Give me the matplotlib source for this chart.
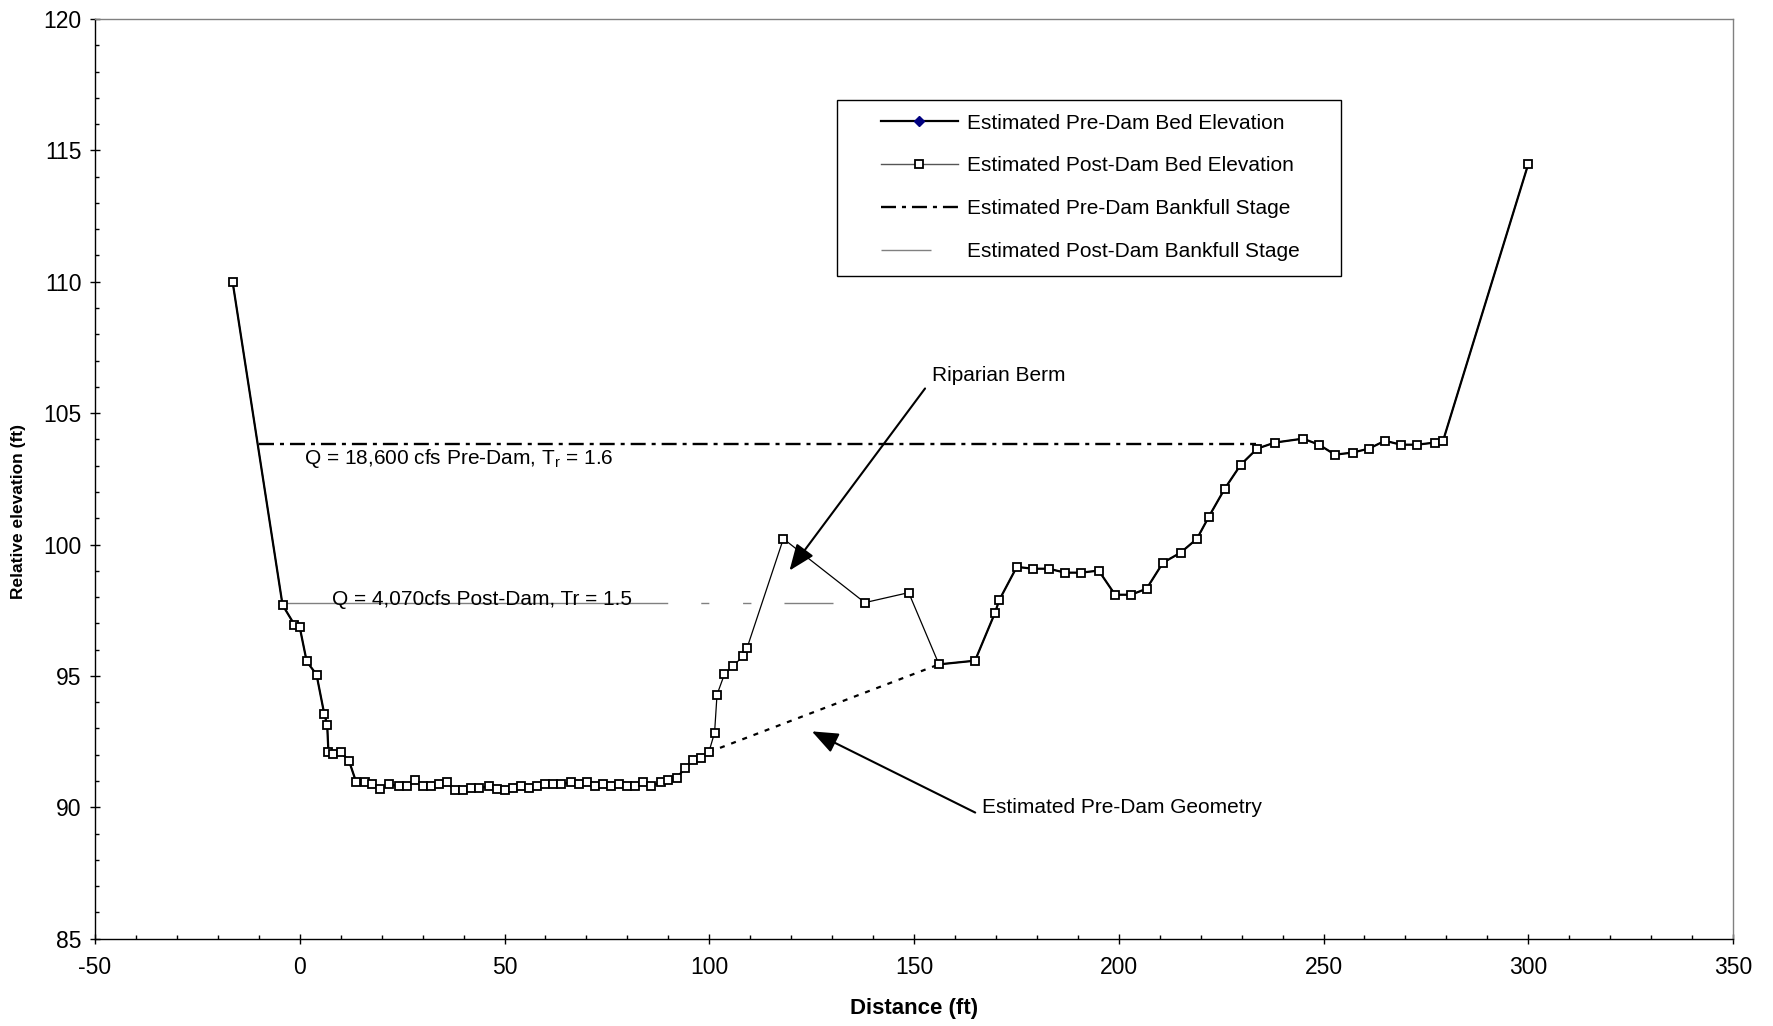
import numpy as np
import matplotlib
matplotlib.use("Agg")
import matplotlib.pyplot as plt
from matplotlib.lines import Line2D
from matplotlib.patches import Rectangle
from matplotlib.ticker import MultipleLocator

plt.rcParams['font.family'] = ['Liberation Sans', 'DejaVu Sans']
plt.rcParams['lines.scale_dashes'] = False
plt.rcParams['mathtext.default'] = 'regular'
plt.rcParams['axes.unicode_minus'] = False

# Surveyed cross-section (post-dam bed), distance / elevation in ft
post_x = [-16.4, -4.2, -1.3, 0.0, 1.7, 4.1, 6.0, 6.7, 7.0, 8.0, 10.0, 12.0,
          13.8, 15.9, 17.7, 19.7, 21.7, 24.2, 26.1, 28.1, 30.0, 32.0, 34.0,
          36.0, 37.9, 39.8, 41.8, 43.8, 46.2, 48.1, 50.1, 52.0, 54.0, 55.9,
          58.0, 59.9, 61.9, 63.8, 66.2, 68.2, 70.1, 72.1, 74.0, 76.0, 77.9,
          79.9, 81.8, 83.8, 85.7, 88.1, 90.0, 92.1, 94.0, 96.0, 97.9, 99.9,
          101.3, 101.9, 103.7, 105.8, 108.2, 109.2, 118.1, 138.0, 148.7,
          156.1, 164.9, 169.8, 170.8, 175.1, 179.0, 182.9, 186.9, 190.8,
          195.1, 199.1, 203.0, 206.8, 210.8, 215.1, 219.1, 222.0, 225.9,
          229.8, 233.8, 238.1, 245.0, 248.9, 252.8, 257.1, 261.1, 265.0,
          268.9, 272.8, 277.2, 279.2, 300.0]
post_y = [110.0, 97.7, 96.95, 96.85, 95.55, 95.05, 93.54, 93.15, 92.1, 92.02,
          92.1, 91.78, 90.95, 90.95, 90.88, 90.71, 90.88, 90.8, 90.8, 91.03,
          90.8, 90.8, 90.88, 90.95, 90.65, 90.65, 90.73, 90.73, 90.8, 90.71,
          90.65, 90.73, 90.83, 90.73, 90.8, 90.88, 90.88, 90.88, 90.95, 90.88,
          90.95, 90.8, 90.88, 90.8, 90.88, 90.8, 90.8, 90.95, 90.8, 90.95,
          91.03, 91.11, 91.49, 91.79, 91.87, 92.1, 92.84, 94.29, 95.06, 95.38,
          95.74, 96.05, 100.22, 97.79, 98.17, 95.44, 95.58, 97.41, 97.88,
          99.15, 99.08, 99.08, 98.93, 98.93, 99.01, 98.09, 98.09, 98.32,
          99.31, 99.69, 100.22, 101.06, 102.13, 103.04, 103.65, 103.88,
          104.03, 103.8, 103.42, 103.5, 103.65, 103.95, 103.8, 103.8, 103.88,
          103.95, 114.48]

# pre-dam bed follows the survey outside the berm reach
berm_start, berm_end = 99.9, 156.1

# bankfull stages
pre_stage = 103.84
pre_stage_x = [-10.0, 233.6]
post_stage = 97.79
post_stage_x = [-4.2, 130.3]

px = np.array(post_x)
py = np.array(post_y)
left = px <= berm_start
right = px >= berm_end

fig = plt.figure(figsize=(17.73, 10.26), dpi=100)
ax = fig.add_axes([95 / 1773, 1 - 938.7 / 1026, (1733 - 95) / 1773, (938.7 - 19) / 1026])

# pre-dam bed (thick line), diamonds sit under the survey squares
for m in (left, right):
    ax.plot(px[m], py[m], color='black', lw=1.6, marker='D', ms=3,
            mfc='navy', mec='navy', zorder=3)
# estimated pre-dam geometry through the berm
ax.plot([berm_start, berm_end], [py[px == berm_start][0], py[px == berm_end][0]],
        color='black', lw=1.6, dashes=(3.6, 5.0), zorder=3)

# post-dam bed
ax.plot(px, py, color='black', lw=0.9, marker='s', ms=5.4, mfc='white',
        mec='black', mew=1.3, zorder=4)

# bankfull stages
ax.plot(pre_stage_x, [pre_stage] * 2, color='black', lw=1.7,
        dashes=(10.8, 4.3, 2.9, 4.3), zorder=2)
ax.plot(post_stage_x, [post_stage] * 2, color='#808080', lw=1.0,
        dashes=(277, 23.8, 5.8, 24.3, 6.0, 23.8, 40), zorder=2)

ax.text(1.0, 103.28, 'Q = 18,600 cfs Pre-Dam, T$_{r}$ = 1.6', fontsize=15,
        va='center', ha='left')
ax.text(7.8, 97.9, 'Q = 4,070cfs Post-Dam, Tr = 1.5', fontsize=15,
        va='center', ha='left')

arrow = dict(arrowstyle='-|>,head_length=0.8,head_width=0.32', color='black',
             lw=1.5, shrinkA=0, shrinkB=0, mutation_scale=20)
ax.annotate('', xy=(119.6, 99.01), xytext=(152.7, 105.94), arrowprops=arrow)
ax.text(154.4, 106.44, 'Riparian Berm', fontsize=15, va='center', ha='left')
ax.annotate('', xy=(125.06, 92.89), xytext=(164.95, 89.80), arrowprops=arrow)
ax.text(166.6, 90.0, 'Estimated Pre-Dam Geometry', fontsize=15, va='center', ha='left')

ax.set_xlim(-50, 350)
ax.set_ylim(85, 120)
ax.xaxis.set_major_locator(MultipleLocator(50))
ax.xaxis.set_minor_locator(MultipleLocator(10))
ax.yaxis.set_major_locator(MultipleLocator(5))
ax.yaxis.set_minor_locator(MultipleLocator(1))
ax.tick_params(which='major', direction='inout', length=7, width=1.0,
               labelsize=16.5)
ax.tick_params(axis='x', which='major', pad=9)
ax.tick_params(axis='y', which='major', pad=6)
ax.tick_params(which='minor', direction='in', length=3, width=1.0)
for s in ('top', 'right'):
    ax.spines[s].set_color('#808080')
for s in ax.spines.values():
    s.set_linewidth(1.0)

ax.set_xlabel('Distance (ft)', fontsize=16, fontweight='bold', va='center')
ax.set_ylabel('Relative elevation (ft)', fontsize=12.5, fontweight='bold', va='center')
ax.xaxis.set_label_coords(0.5, -0.0764)
ax.yaxis.set_label_coords(-0.0464, 0.465)

# legend
handles = [
    Line2D([], [], color='black', lw=1.6, marker='D', ms=5, mfc='navy', mec='navy'),
    Line2D([], [], color='#555555', lw=1.0, marker='s', ms=6, mfc='white', mec='black', mew=1.3),
    Line2D([], [], color='black', lw=1.7, dashes=(10.8, 4.3, 2.9, 4.3)),
    Line2D([], [], color='#808080', lw=1.0, dashes=(36, 100)),
]
labels = ['Estimated Pre-Dam Bed Elevation', 'Estimated Post-Dam Bed Elevation',
          'Estimated Pre-Dam Bankfull Stage', 'Estimated Post-Dam Bankfull Stage']
fig.legend(handles, labels, loc='upper left',
           bbox_to_anchor=(864 / 1773, 1 - 97 / 1026), frameon=False,
           fontsize=15, handlelength=3.7, handletextpad=0.45, labelspacing=1.14,
           borderpad=0.3)
fig.patches.append(Rectangle((837 / 1773, 1 - 276 / 1026), (1341 - 837) / 1773,
                             (276 - 99.5) / 1026, transform=fig.transFigure,
                             fill=False, edgecolor='black', lw=1.0))

fig.savefig('out.png', dpi=100, facecolor='white')
